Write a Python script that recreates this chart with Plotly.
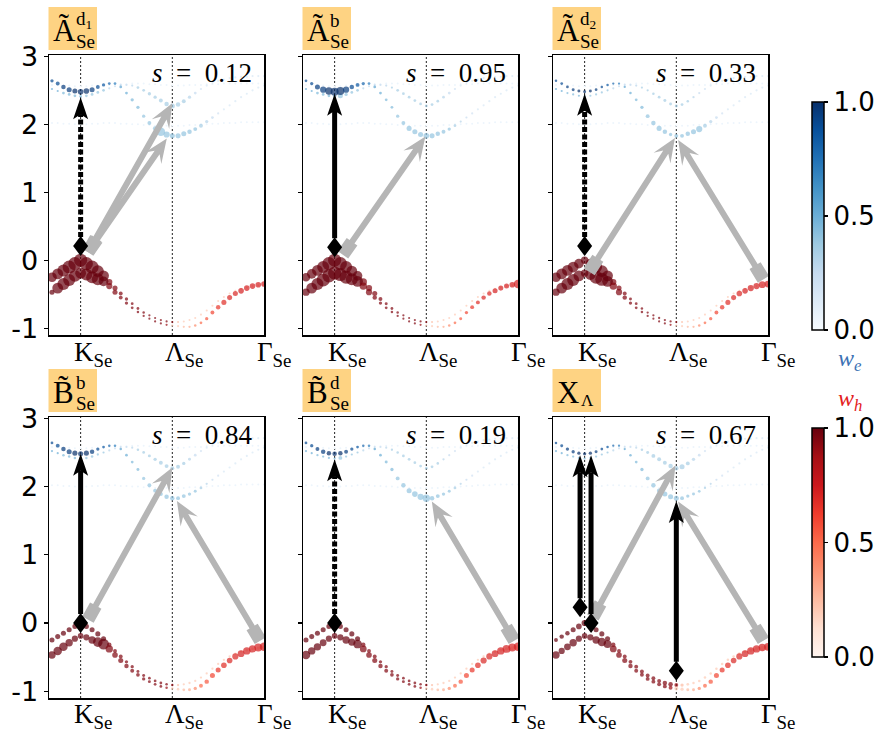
import math
import plotly.graph_objects as go

W, H = 874, 732

# ---------------- data ----------------
K_PATH = [-0.3125, -0.25, -0.1875, -0.125, -0.0625, 0.0, 0.0625, 0.125, 0.1875, 0.25,
          0.3125, 0.375, 0.4375, 0.5, 0.5625, 0.625, 0.6875, 0.75, 0.8125, 0.875,
          0.9375, 1.0, 1.0625, 1.125, 1.1875, 1.25, 1.3125, 1.375, 1.4375, 1.5,
          1.5625, 1.625, 1.6875, 1.75, 1.8125, 1.875, 1.9375, 2.0]
K_TICKS = [0.0, 1.0, 2.0]
K_LABELS = ["K", "Λ", "Γ"]
Y_TICKS = [-1, 0, 1, 2, 3]
Y_TICKTEXT = ["-1", "0", "1", "2", "3"]

VB1_E = [-0.25, -0.20, -0.15, -0.10, -0.05, 0.00, -0.05, -0.10, -0.16, -0.23,
         -0.32, -0.41, -0.49, -0.57, -0.64, -0.71, -0.77, -0.81, -0.85, -0.88,
         -0.90, -0.91, -0.91, -0.90, -0.88, -0.85, -0.80, -0.74, -0.67, -0.60,
         -0.54, -0.49, -0.45, -0.42, -0.40, -0.38, -0.37, -0.36]
VB2_E = [-0.47, -0.41, -0.35, -0.29, -0.23, -0.19, -0.21, -0.25, -0.28, -0.31,
         -0.38, -0.47, -0.55, -0.63, -0.70, -0.76, -0.82, -0.86, -0.90, -0.93,
         -0.95, -0.96, -0.97, -0.98, -0.98, -0.96, -0.92, -0.86, -0.77, -0.69,
         -0.62, -0.55, -0.49, -0.45, -0.41, -0.38, -0.36, -0.35]
CB1_E = [2.64, 2.60, 2.55, 2.51, 2.49, 2.48, 2.49, 2.51, 2.55, 2.58,
         2.60, 2.60, 2.55, 2.46, 2.36, 2.25, 2.12, 2.02, 1.94, 1.89,
         1.85, 1.83, 1.83, 1.86, 1.89, 1.93, 1.98, 2.04, 2.10, 2.16,
         2.22, 2.28, 2.34, 2.40, 2.45, 2.50, 2.54, 2.57]
CB2_E = [2.52, 2.49, 2.46, 2.44, 2.42, 2.41, 2.42, 2.44, 2.47, 2.50,
         2.53, 2.56, 2.58, 2.58, 2.57, 2.54, 2.50, 2.45, 2.40, 2.35,
         2.30, 2.27, 2.29, 2.34, 2.40, 2.46, 2.52, 2.57, 2.61, 2.64,
         2.66, 2.68, 2.69, 2.70, 2.70, 2.71, 2.71, 2.71]
FAINT_A_E = [2.02, 2.02, 2.01, 2.01, 2.00, 2.00, 2.00, 2.01, 2.01, 2.02,
             2.02, 2.02, 2.01, 2.01, 2.00, 2.00, 1.99, 1.99, 1.98, 1.98,
             1.98, 1.98, 1.98, 1.98, 1.99, 1.99, 2.00, 2.00, 2.01, 2.01,
             2.02, 2.02, 2.02, 2.03, 2.03, 2.03, 2.03, 2.03]
FAINT_B_E = [2.58, 2.58, 2.57, 2.57, 2.56, 2.56, 2.56, 2.57, 2.57, 2.58,
             2.58, 2.59, 2.59, 2.59, 2.60, 2.60, 2.60, 2.59, 2.59, 2.58,
             2.58, 2.57, 2.57, 2.57, 2.58, 2.58, 2.58, 2.59, 2.59, 2.59,
             2.60, 2.60, 2.60, 2.60, 2.60, 2.60, 2.60, 2.60]
FAINT_W = 0.05

# layer weights (colour)
WE_CB1 = [.9, .9, .95, .95, 1, 1, 1, .95, .9, .85, .8, .7, .55, .5, .45, .45, .4, .4, .4, .4,
          .4, .4, .4, .4, .4, .4, .35, .3, .25, .2, .15, .15, .15, .15, .15, .15, .15, .15]
WE_CB2 = [.5, .5, .45, .45, .45, .45, .4, .4, .4, .4, .3, .25, .25, .25, .3, .35, .35, .35, .35, .35,
          .35, .35, .35, .35, .3, .25, .2, .15, .15, .15, .15, .15, .15, .15, .15, .15, .15, .15]
WH_VB1 = [1, 1, 1, 1, 1, 1, 1, 1, 1, 1, .95, .95, .95, .95, .95, .95, .95, .95, .95, .95,
          .95, .9, .25, .2, .2, .2, .2, .2, .2, .2, .2, .2, .2, .2, .2, .2, .2, .2]
WH_VB2 = [1, 1, 1, 1, 1, 1, 1, 1, 1, 1, .95, .95, .95, .95, .95, .95, .95, .95, .95, .95,
          .9, .2, .2, .25, .3, .4, .5, .55, .6, .65, .68, .7, .7, .72, .72, .72, .72, .72]

# exciton amplitudes (marker size), one list per panel
AMP_VB1 = [
    [.7, .8, .9, 1, 1, 1, 1, 1, .9, .8, .4, .3, .2, .15, .1, .1, .08, .06, .05, .05,
     .05, .05, .04, .04, .04, .04, .04, .04, .04, .04, .04, .04, .04, .04, .04, .04, .04, .04],
    [.6, .7, .8, .9, 1, 1, 1, .9, .8, .7, .5, .4, .3, .2, .12, .1, .08, .06, .05, .05,
     .05, .05, .04, .04, .04, .04, .04, .04, .04, .04, .04, .04, .04, .04, .04, .04, .04, .04],
    [.7, .8, .8, .8, .7, .5, .7, .9, .9, .8, .4, .3, .2, .12, .1, .08, .06, .06, .06, .06,
     .06, .05, .04, .04, .04, .04, .04, .04, .04, .04, .04, .04, .04, .04, .04, .04, .04, .04],
    [.3, .3, .3, .3, .3, .3, .3, .3, .3, .3, .25, .2, .2, .15, .15, .12, .12, .1, .1, .1,
     .08, .08, .06, .06, .06, .06, .06, .06, .06, .06, .06, .06, .06, .06, .08, .1, .15, .2],
    [.3, .3, .3, .3, .3, .3, .3, .3, .3, .3, .25, .2, .2, .15, .15, .12, .12, .1, .1, .1,
     .08, .08, .06, .06, .06, .06, .06, .06, .06, .06, .06, .06, .08, .1, .12, .15, .2, .3],
    [.2, .25, .25, .3, .35, .4, .35, .3, .3, .3, .25, .2, .2, .2, .2, .2, .2, .2, .2, .25,
     .25, .2, .15, .1, .08, .08, .08, .08, .08, .08, .08, .08, .1, .12, .15, .2, .25, .3],
]
AMP_VB2 = [
    [.3, .8, .9, .9, .9, .8, .9, .9, .9, .7, .4, .3, .2, .15, .1, .08, .06, .05, .05, .05,
     .05, .05, .05, .05, .06, .08, .1, .15, .2, .25, .3, .3, .3, .35, .35, .35, .35, .35],
    [.5, .8, .9, 1, 1, 1, 1, 1, .9, .8, .5, .4, .25, .15, .1, .08, .06, .05, .05, .05,
     .05, .05, .05, .05, .06, .08, .1, .12, .15, .2, .2, .25, .25, .3, .3, .3, .35, .6],
    [.5, .8, .9, .9, .8, .5, .8, 1, 1, .8, .5, .4, .25, .15, .1, .08, .06, .05, .05, .05,
     .05, .05, .05, .05, .06, .08, .1, .15, .2, .25, .3, .3, .35, .35, .4, .4, .45, .45],
    [.5, .6, .6, .5, .4, .35, .4, .5, .7, .8, .5, .35, .3, .25, .2, .18, .15, .12, .1, .1,
     .08, .08, .08, .1, .12, .15, .2, .25, .3, .3, .35, .35, .4, .45, .5, .5, .55, .6],
    [.6, .5, .5, .45, .4, .35, .4, .5, .5, .6, .45, .35, .3, .25, .2, .18, .15, .12, .1, .1,
     .08, .08, .08, .1, .12, .15, .2, .25, .3, .3, .35, .4, .4, .45, .5, .55, .55, .6],
    [.5, .4, .45, .5, .4, .35, .4, .5, .6, .55, .45, .35, .3, .25, .2, .2, .2, .2, .2, .2,
     .2, .2, .15, .12, .12, .15, .2, .25, .3, .3, .35, .35, .4, .45, .5, .5, .5, .55],
]
AMP_CB1 = [
    [.15, .2, .25, .3, .3, .35, .35, .3, .2, .15, .1, .1, .1, .1, .15, .15, .15, .2, .25, .6,
     .4, .3, .3, .3, .25, .2, .2, .15, .1, .05, .05, .05, .05, .05, .05, .05, .05, .05],
    [.1, .15, .3, .4, .5, .55, .55, .4, .25, .2, .15, .1, .1, .1, .1, .1, .15, .2, .3, .3,
     .3, .35, .3, .25, .2, .15, .1, .05, .05, .05, .05, .05, .05, .05, .05, .05, .05, .05],
    [.08, .1, .1, .12, .12, .12, .12, .1, .08, .08, .06, .06, .06, .08, .1, .15, .2, .25, .3, .25,
     .15, .2, .2, .25, .3, .4, .2, .15, .1, .05, .05, .05, .05, .05, .05, .05, .05, .05],
    [.1, .2, .25, .3, .3, .3, .3, .25, .15, .1, .08, .08, .08, .1, .1, .12, .15, .2, .2, .2,
     .25, .25, .2, .2, .15, .12, .1, .06, .05, .05, .05, .05, .05, .05, .05, .05, .05, .05],
    [.1, .15, .2, .25, .25, .25, .25, .2, .15, .1, .08, .08, .08, .1, .12, .15, .2, .25, .3, .35,
     .4, .5, .25, .2, .15, .12, .1, .06, .05, .05, .05, .05, .05, .05, .05, .05, .05, .05],
    [.08, .12, .15, .15, .15, .15, .15, .12, .1, .08, .06, .06, .06, .08, .1, .15, .2, .25, .25, .3,
     .3, .3, .2, .15, .12, .1, .06, .05, .05, .05, .05, .05, .05, .05, .05, .05, .05, .05],
]
AMP_CB2 = [
    [.05, .05, .1, .1, .1, .1, .1, .1, .1, .1, .05, .05, .05, .05, .05, .1, .1, .15, .15, .2,
     .25, .3, .25, .2, .15, .1, .05, .05, .05, .05, .05, .05, .05, .05, .05, .05, .05, .05],
    [.05, .05, .1, .1, .1, .15, .3, .15, .1, .1, .05, .05, .05, .05, .05, .05, .1, .1, .1, .1,
     .1, .1, .1, .1, .1, .1, .05, .05, .05, .05, .05, .05, .05, .05, .05, .05, .05, .05],
    [.05, .05, .05, .05, .05, .05, .05, .05, .05, .05, .05, .05, .05, .05, .05, .05, .05, .08, .1, .12,
     .12, .12, .1, .08, .06, .05, .05, .05, .05, .05, .05, .05, .05, .05, .05, .05, .05, .05],
    [.05, .05, .08, .08, .08, .08, .08, .08, .06, .05, .05, .05, .05, .05, .05, .08, .1, .12, .15, .2,
     .2, .2, .2, .15, .12, .1, .06, .05, .05, .05, .05, .05, .05, .05, .05, .05, .05, .05],
    [.05, .05, .06, .06, .06, .06, .2, .06, .05, .05, .05, .05, .05, .05, .05, .06, .08, .1, .1, .1,
     .1, .1, .1, .08, .06, .05, .05, .05, .05, .05, .05, .05, .05, .05, .05, .05, .05, .05],
    [.05, .05, .06, .06, .06, .06, .06, .06, .05, .05, .05, .05, .05, .05, .05, .08, .12, .2, .2, .2,
     .25, .25, .3, .2, .15, .1, .06, .05, .05, .05, .05, .05, .05, .05, .05, .05, .05, .05],
]

TITLE_MAIN = ["Ã", "Ã", "Ã", "B\u0303", "B\u0303", "X"]
TITLE_SUP = ["d<sub>1</sub>", "b", "d<sub>2</sub>", "b", "d", ""]
TITLE_SUB = ["Se", "Se", "Se", "Se", "Se", "Λ"]
S_VALUES = ["0.12", "0.95", "0.33", "0.84", "0.19", "0.67"]

# transitions: black (x, y_start, y_end, dashed) ; grey (x0, y0, x1, y1)
BLACK_ARROWS = [
    [(0.0, 0.21, 2.40, True)],
    [(0.0, 0.19, 2.45, False)],
    [(0.0, 0.21, 2.45, True)],
    [(0.0, 0.0, 2.48, False)],
    [(0.0, 0.0, 2.40, True)],
    [(-0.05, 0.23, 2.46, False), (0.07, 0.0, 2.46, False), (1.0, -0.70, 1.79, False)],
]
GREY_ARROWS = [
    [(0.08, 0.12, 1.0, 2.31), (0.08, 0.12, 0.94, 1.79)],
    [(0.09, 0.08, 0.99, 1.82)],
    [(0.05, -0.17, 0.985, 1.80), (1.95, -0.28, 1.02, 1.77)],
    [(0.08, 0.05, 1.0, 2.28), (1.96, -0.26, 1.05, 1.79)],
    [(1.96, -0.26, 1.06, 1.78)],
    [(0.09, 0.08, 0.99, 2.31), (1.95, -0.26, 1.02, 1.78)],
]

# ---------------- style / layout ----------------
BLUES = ['#f7fbff', '#deebf7', '#c6dbef', '#9ecae1', '#6baed6', '#4292c6', '#2171b5', '#08519c', '#08306b']
REDS = ['#fff5f0', '#fee0d2', '#fcbba1', '#fc9272', '#fb6a4a', '#ef3b2c', '#cb181d', '#a50f15', '#67000d']
BLUES_CS = [[k / 8, c] for k, c in enumerate(BLUES)]
REDS_CS = [[k / 8, c] for k, c in enumerate(REDS)]

COL_PX = [(49, 264), (303, 518), (553, 768)]
ROW_PX = [(55, 335), (417, 698)]
XR = [-0.345, 2.0]
YR = [-1.1, 3.02]
SERIF = "Liberation Serif"
SANS = "DejaVu Sans"
GREY = "#b5b5b5"
BOX = "#fed383"


def names(i):
    return ("x" if i == 0 else f"x{i+1}", "y" if i == 0 else f"y{i+1}")


def scales(i):
    r, c = divmod(i, 3)
    sx = (COL_PX[c][1] - COL_PX[c][0]) / (XR[1] - XR[0])
    sy = (ROW_PX[r][1] - ROW_PX[r][0]) / (YR[1] - YR[0])
    return sx, sy


def px(xp):
    return xp / W


def py(yp):
    return 1 - yp / H


def size_of(a):
    return [1.6 + 11.5 * v for v in a]


def cbar(yc, ln):
    return dict(x=812 / W, xanchor="left", xpad=0, y=py(yc), yanchor="middle", ypad=0,
                len=ln, lenmode="pixels", thickness=12, thicknessmode="pixels",
                outlinewidth=1.5, outlinecolor="black", tickvals=[0, 0.5, 1],
                ticktext=["0.0", "0.5", "1.0"], ticks="outside", ticklen=4, tickwidth=1.2,
                tickcolor="black", tickfont=dict(family=SANS, size=26, color="black"))


fig = go.Figure()
layout = dict(width=W, height=H, margin=dict(l=0, r=0, t=0, b=0, autoexpand=False), autosize=False,
              paper_bgcolor="white", plot_bgcolor="white", showlegend=False,
              hovermode=False)

for i in range(6):
    r, c = divmod(i, 3)
    xn, yn = names(i)
    xa = "xaxis" if i == 0 else f"xaxis{i+1}"
    ya = "yaxis" if i == 0 else f"yaxis{i+1}"
    layout[xa] = dict(domain=[px(COL_PX[c][0]), px(COL_PX[c][1])], range=XR, anchor=yn,
                      showline=True, mirror=True, linecolor="black", linewidth=1.5,
                      showgrid=False, zeroline=False, showticklabels=False, ticks="",
                      automargin=False)
    layout[ya] = dict(domain=[py(ROW_PX[r][1]), py(ROW_PX[r][0])], range=YR, anchor=xn,
                      showline=True, mirror=True, linecolor="black", linewidth=1.5,
                      showgrid=False, zeroline=False, ticks="outside", ticklen=4,
                      tickwidth=1.2, tickcolor="black", tickvals=Y_TICKS, ticktext=Y_TICKTEXT,
                      showticklabels=(c == 0), automargin=False,
                      tickfont=dict(family=SANS, size=27, color="black"))

    for fe in (FAINT_A_E, FAINT_B_E):
        fig.add_trace(go.Scatter(x=K_PATH, y=fe, mode="markers", xaxis=xn, yaxis=yn,
                                 marker=dict(size=2.0, color=[FAINT_W] * len(K_PATH),
                                             colorscale=BLUES_CS, cmin=0, cmax=1, line=dict(width=0)),
                                 hoverinfo="skip"))
    for E, Wt, A, cs in ((CB2_E, WE_CB2, AMP_CB2[i], BLUES_CS), (CB1_E, WE_CB1, AMP_CB1[i], BLUES_CS),
                         (VB1_E, WH_VB1, AMP_VB1[i], REDS_CS), (VB2_E, WH_VB2, AMP_VB2[i], REDS_CS)):
        mk = dict(size=size_of(A), color=Wt, colorscale=cs, cmin=0, cmax=1, line=dict(width=0))
        if i == 0 and E is CB1_E:
            mk.update(showscale=True, colorbar=cbar(216, 228))
        if i == 0 and E is VB2_E:
            mk.update(showscale=True, colorbar=cbar(542.5, 229))
        fig.add_trace(go.Scatter(x=K_PATH, y=E, mode="markers", xaxis=xn, yaxis=yn,
                                 marker=mk, hoverinfo="skip"))

shapes = []
annotations = []


def path_of(pts, sx, sy):
    return "M " + " L ".join(f"{a / sx:.5f},{b / sy:.5f}" for a, b in pts) + " Z"


def along(base, u, n, a, b):
    return (base[0] + a * u[0] + b * n[0], base[1] + a * u[1] + b * n[1])


for i in range(6):
    r, c = divmod(i, 3)
    xn, yn = names(i)
    sx, sy = scales(i)
    # dotted high-symmetry lines
    for kv in (K_TICKS[0], K_TICKS[1]):
        shapes.append(dict(type="line", xref=xn, yref=f"{yn} domain", x0=kv, x1=kv, y0=0, y1=1,
                           line=dict(color="#222222", width=1, dash="2px,2px"), layer="below"))
    # grey arrows
    for (x0, y0, x1, y1) in GREY_ARROWS[i]:
        S = (x0 * sx, y0 * sy)
        E = (x1 * sx, y1 * sy)
        dx, dy = E[0] - S[0], E[1] - S[1]
        L = math.hypot(dx, dy)
        u = (dx / L, dy / L)
        n = (-u[1], u[0])
        HL, HW, NOTCH, WS, TL, WT = 24, 10, 7, 3, 16, 6.5
        pts = [along(S, u, n, 0, WT), along(S, u, n, TL, WT), along(S, u, n, TL, WS),
               along(E, u, n, -(HL - NOTCH), WS), along(E, u, n, -HL, HW), E,
               along(E, u, n, -HL, -HW), along(E, u, n, -(HL - NOTCH), -WS),
               along(S, u, n, TL, -WS), along(S, u, n, TL, -WT), along(S, u, n, 0, -WT)]
        shapes.append(dict(type="path", xref=xn, yref=yn, path=path_of(pts, sx, sy),
                           fillcolor=GREY, line=dict(width=0), layer="above"))
    # black arrows
    for (xv, ys, ye, dashed) in BLACK_ARROWS[i]:
        HL, HW, NOTCH, DH, DW = 22, 7.5, 5, 10, 7.5
        shapes.append(dict(type="line", xref=xn, yref=yn, x0=xv, x1=xv,
                           y0=ys + (DH - 1) / sy, y1=ye - (HL - NOTCH) / sy,
                           line=dict(color="black", width=5, dash="5px,2.5px" if dashed else "solid"),
                           layer="above"))
        T = (xv * sx, ye * sy)
        head = [T, (T[0] + HW, T[1] - HL), (T[0], T[1] - HL + NOTCH), (T[0] - HW, T[1] - HL)]
        shapes.append(dict(type="path", xref=xn, yref=yn, path=path_of(head, sx, sy),
                           fillcolor="black", line=dict(width=0), layer="above"))
        D = (xv * sx, ys * sy)
        dia = [(D[0], D[1] + DH), (D[0] + DW, D[1]), (D[0], D[1] - DH), (D[0] - DW, D[1])]
        shapes.append(dict(type="path", xref=xn, yref=yn, path=path_of(dia, sx, sy),
                           fillcolor="black", line=dict(width=0), layer="above"))

    # title box
    bx0 = COL_PX[c][0] - 0.5
    by0 = 7 + 362 * r
    shapes.append(dict(type="rect", xref="paper", yref="paper", x0=px(bx0), x1=px(bx0 + 48.5),
                       y0=py(by0 + 43), y1=py(by0), fillcolor=BOX, line=dict(width=0), layer="below"))
    annotations.append(dict(xref="paper", yref="paper", x=px(bx0 + 2), y=py(by0 + 23),
                            xanchor="left", yanchor="middle", showarrow=False, text=TITLE_MAIN[i],
                            font=dict(family=SERIF, size=31, color="black")))
    if TITLE_SUP[i]:
        annotations.append(dict(xref="paper", yref="paper", x=px(bx0 + 25), y=py(by0 + 13),
                                xanchor="left", yanchor="middle", showarrow=False, text=TITLE_SUP[i],
                                font=dict(family=SERIF, size=19, color="black")))
    annotations.append(dict(xref="paper", yref="paper", x=px(bx0 + (26 if i == 5 else 25)),
                            y=py(by0 + (31 if i == 5 else 35)),
                            xanchor="left", yanchor="middle", showarrow=False, text=TITLE_SUB[i],
                            font=dict(family=SERIF, size=17 if i == 5 else 19, color="black")))
    # s value
    annotations.append(dict(xref=xn, yref="paper", x=XR[1], xshift=-10, y=py(73 + 362 * r),
                            xanchor="right", yanchor="middle", showarrow=False,
                            text="<i>s</i>\u00a0\u00a0=\u00a0\u00a0" + S_VALUES[i],
                            font=dict(family=SERIF, size=27, color="black")))
    # k-point labels
    for kv, kl in zip(K_TICKS, K_LABELS):
        annotations.append(dict(xref=xn, yref="paper", x=kv, xshift=-9, y=py(354 + 362 * r),
                                xanchor="left", yanchor="middle", showarrow=False,
                                text=f"{kl}<sub>Se</sub>",
                                font=dict(family=SERIF, size=27, color="black")))

# colourbar labels
annotations.append(dict(xref="paper", yref="paper", x=px(836), y=py(360), xanchor="left",
                        yanchor="middle", showarrow=False, text="<i>w<sub>e</sub></i>",
                        font=dict(family=SERIF, size=24, color="#3d72b4")))
annotations.append(dict(xref="paper", yref="paper", x=px(836), y=py(400), xanchor="left",
                        yanchor="middle", showarrow=False, text="<i>w<sub>h</sub></i>",
                        font=dict(family=SERIF, size=24, color="#e3201c")))

layout["shapes"] = shapes
layout["annotations"] = annotations
fig.update_layout(**layout)
fig.write_html("out.html", config={"displayModeBar": False, "staticPlot": True},
               post_script="document.body.style.margin='0px';document.body.style.overflow='hidden';")
